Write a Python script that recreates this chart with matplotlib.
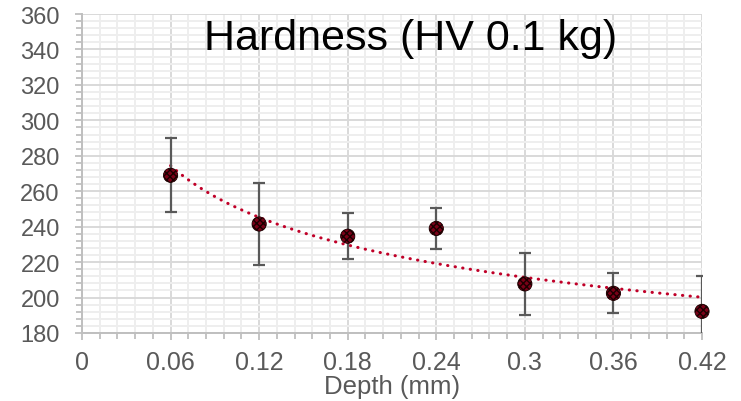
import numpy as np
import matplotlib
matplotlib.use("Agg")
import matplotlib.pyplot as plt
from matplotlib.ticker import MultipleLocator

depth = [0.06, 0.12, 0.18, 0.24, 0.30, 0.36, 0.42]
hardness = [269.0, 241.5, 234.6, 239.0, 207.7, 202.4, 192.2]
errors = [21.0, 23.4, 13.0, 11.5, 17.6, 11.2, 20.0]
xticks = [0, 0.06, 0.12, 0.18, 0.24, 0.3, 0.36, 0.42]
xticklabels = ["0", "0.06", "0.12", "0.18", "0.24", "0.3", "0.36", "0.42"]
title = "Hardness (HV 0.1 kg)"
xlabel = "Depth (mm)"

plt.rcParams['font.family'] = ['Liberation Sans', 'DejaVu Sans']

fig = plt.figure(figsize=(7.41, 4.02), dpi=100)
ax = fig.add_axes([82/741, 1-334/402, (702-82)/741, (334-15)/402])

ax.set_xlim(0, 0.42)
ax.set_ylim(180, 360)
ax.set_xticks(xticks)
ax.set_xticklabels(xticklabels)
ax.yaxis.set_major_locator(MultipleLocator(20))
ax.yaxis.set_minor_locator(MultipleLocator(4))
ax.xaxis.set_minor_locator(MultipleLocator(0.012))

ax.grid(which='minor', color='#eeeeee', linewidth=1.4, zorder=0)
ax.grid(which='major', color='#d9d9d9', linewidth=1.4, zorder=0)
ax.set_axisbelow(True)

for s in ['top', 'right']:
    ax.spines[s].set_visible(False)
for s in ['left', 'bottom']:
    ax.spines[s].set_color('#bfbfbf')
    ax.spines[s].set_linewidth(1.4)

ax.tick_params(which='both', direction='out', color='#bfbfbf', width=1.3)
ax.tick_params(which='major', length=5, labelcolor='#595959')
ax.tick_params(which='minor', length=4.5)
ax.tick_params(axis='x', which='major', labelsize=18, pad=7)
ax.tick_params(axis='y', which='major', labelsize=17, pad=11)

# trendline (power fit)
x = np.array(depth)
y = np.array(hardness)
d, c = np.polyfit(np.log(x), np.log(y), 1)
xs = np.linspace(0.06, 0.42, 300)
ax.plot(xs, np.exp(c) * xs ** d, linestyle=(0, (0.1, 2.4)), dash_capstyle='round',
        color='#c00028', linewidth=2.2, zorder=3, clip_on=False)

ax.errorbar(depth, hardness, yerr=errors, fmt='none', ecolor='#595959',
            elinewidth=1.6, capsize=4.5, capthick=1.6, zorder=4)
ax.scatter(depth, hardness, s=105, facecolor='#7a0018', edgecolor='#1a0000',
           hatch='xxxxx', linewidth=0.6, zorder=5, clip_on=False)

fig.text(392/741, 1-394.5/402, xlabel, ha='center', va='baseline', fontsize=18.5, color='#595959')

fig.text(411/741, 1-50/402, title, ha='center', va='baseline', fontsize=31, color='black')

fig.savefig("out.png", dpi=100)
